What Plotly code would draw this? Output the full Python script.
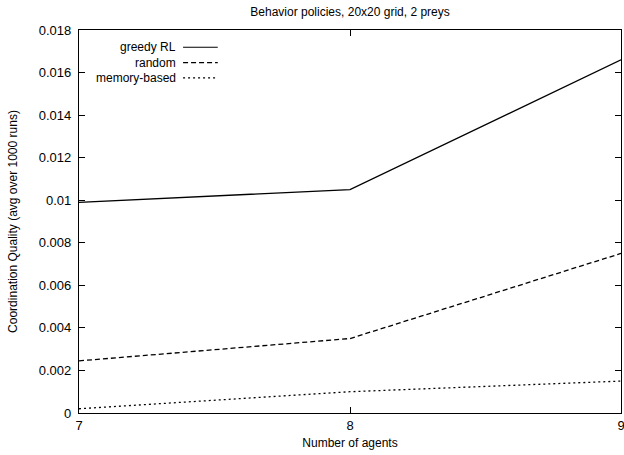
import plotly.graph_objects as go

agents = [7, 8, 9]
greedy_rl = [0.0099, 0.0105, 0.0166]
random_policy = [0.00245, 0.0035, 0.0075]
memory_based = [0.0002, 0.0010, 0.0015]

series = [
    ("greedy RL", greedy_rl, "solid"),
    ("random", random_policy, "5px,3px"),
    ("memory-based", memory_based, "2px,3px"),
]

FONT = "Liberation Sans, Arial, sans-serif"

fig = go.Figure()
for name, vals, dash in series:
    fig.add_trace(go.Scatter(
        x=agents, y=vals, mode="lines", name=name,
        line=dict(color="black", width=1.3, dash=dash),
        showlegend=False,
    ))

# gnuplot-style key: right-aligned label followed by a line sample
key_y = [0.955, 0.915, 0.875]
for (name, vals, dash), ky in zip(series, key_y):
    fig.add_annotation(
        xref="paper", yref="paper", x=0.183, y=ky, text=name,
        showarrow=False, xanchor="right", yanchor="middle",
        font=dict(family=FONT, size=12, color="black"),
    )
    fig.add_shape(
        type="line", xref="paper", yref="paper",
        x0=0.192, x1=0.256, y0=ky, y1=ky,
        line=dict(color="black", width=1.2, dash=dash),
    )

axis_common = dict(
    showline=True, linecolor="black", linewidth=1.2, mirror="allticks",
    ticks="inside", ticklen=6, tickcolor="black", tickwidth=1,
    showgrid=False, zeroline=False, ticklabeloverflow="allow",
    automargin=False,
    tickfont=dict(family=FONT, size=13, color="black"),
)

fig.update_layout(
    width=624, height=455,
    margin=dict(l=79, r=3, t=30, b=42),
    paper_bgcolor="white", plot_bgcolor="white",
    title=dict(
        text="Behavior policies, 20x20 grid, 2 preys",
        x=0.561, xanchor="center", y=0.973, yanchor="middle",
        font=dict(family=FONT, size=12, color="black"),
    ),
    xaxis=dict(
        range=[7, 9], tickvals=agents, ticktext=[str(a) for a in agents],
        title=dict(text="Number of agents", standoff=6,
                   font=dict(family=FONT, size=12, color="black")),
        **axis_common,
    ),
    yaxis=dict(
        range=[0, 0.018], dtick=0.002, ticklabelstandoff=4,
        title=dict(text="Coordination Quality (avg over 1000 runs)", standoff=18,
                   font=dict(family=FONT, size=12, color="black")),
        **axis_common,
    ),
)

fig.write_html("out.html")
